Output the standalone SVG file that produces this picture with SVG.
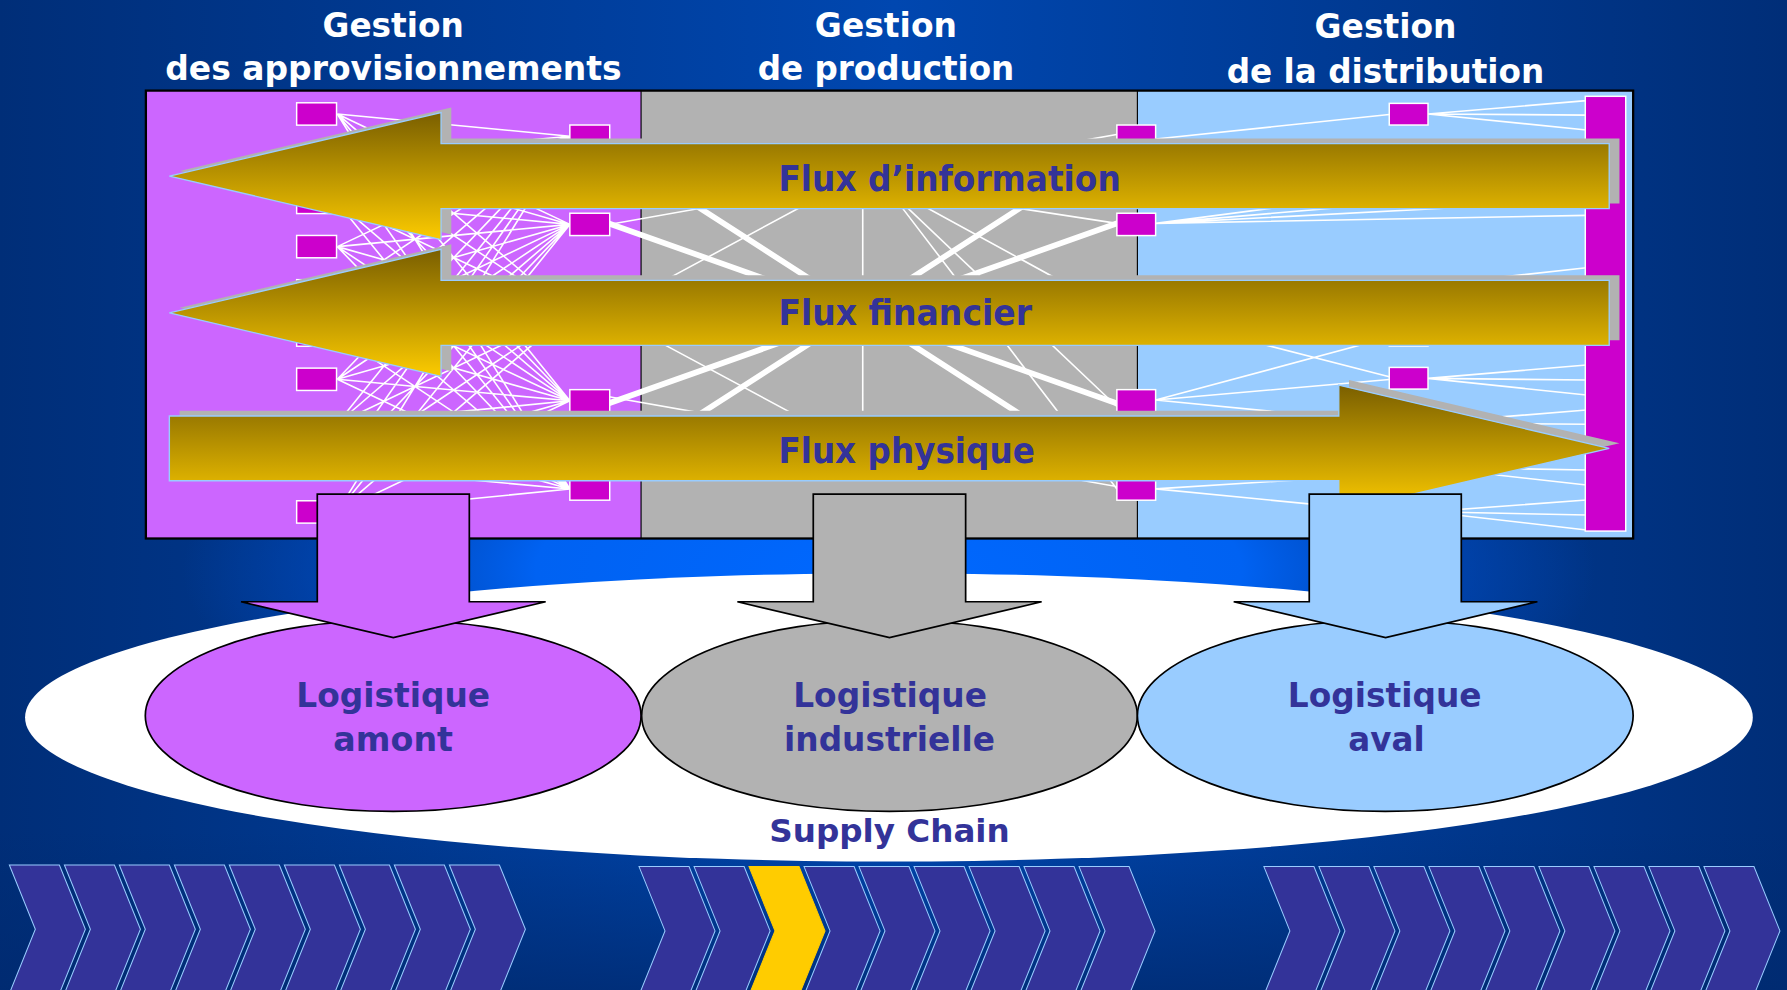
<svg xmlns="http://www.w3.org/2000/svg" xmlns:xlink="http://www.w3.org/1999/xlink" width="1787" height="990" viewBox="0 0 1787 990">
<defs>
<linearGradient id="bg" x1="0" y1="0" x2="1" y2="0">
<stop offset="0" stop-color="#002e78"/><stop offset="0.5" stop-color="#0047b0"/><stop offset="1" stop-color="#002e78"/>
</linearGradient>
<linearGradient id="bgdark" x1="0" y1="0" x2="0" y2="1">
<stop offset="0" stop-color="#002a70" stop-opacity="0"/><stop offset="1" stop-color="#002a70" stop-opacity="0.8"/>
</linearGradient>
<radialGradient id="glow" cx="0.5" cy="0.5" r="0.5">
<stop offset="0" stop-color="#0068ff"/><stop offset="0.5" stop-color="#0062f2"/><stop offset="0.75" stop-color="#0050d0" stop-opacity="0.55"/><stop offset="1" stop-color="#0050d0" stop-opacity="0"/>
</radialGradient>
<linearGradient id="gold" x1="0" y1="0" x2="0" y2="1">
<stop offset="0" stop-color="#7a5f00"/><stop offset="1" stop-color="#fccb00"/>
</linearGradient>
<polygon id="chev" points="0,0 43.9,0 66.7,56.4 43.9,112.8 0,112.8 22.8,56.4"/>
<style>
.sq{fill:#cc00cc;stroke:#ffffff;stroke-width:1.3}
.ln{stroke:#ffffff;stroke-width:1.4;fill:none}
.thk{stroke:#ffffff;stroke-width:5;fill:none}
.arr{fill:url(#gold);stroke:#99ccff;stroke-width:1.2}
.shd{fill:#b2b2b2}
.dn{stroke:#000000;stroke-width:1.5}
.ell{stroke:#000000;stroke-width:1.5}
.ttl{font-family:"DejaVu Sans","Liberation Sans",sans-serif;font-weight:bold;fill:#ffffff;font-size:29.2px}
.lab{font-family:"DejaVu Sans","Liberation Sans",sans-serif;font-weight:bold;fill:#333399}
.chev{fill:#333399;stroke:#99ccff;stroke-width:0.9}
.chevy{fill:#ffcc00;stroke:#ffcc00;stroke-width:0.9}
</style>
</defs>
<g transform="scale(1.13967)">
<g id="background">
<rect x="0" y="0" width="1568" height="870" fill="url(#bg)"/>
<rect x="0" y="730" width="1568" height="140" fill="url(#bgdark)"/>
<ellipse cx="780" cy="500" rx="620" ry="200" fill="url(#glow)"/>
</g>
<g id="titles">
<text class="ttl" x="283" y="32.3" textLength="124" lengthAdjust="spacingAndGlyphs">Gestion</text>
<text class="ttl" x="145" y="70.5" textLength="400.5" lengthAdjust="spacingAndGlyphs">des approvisionnements</text>
<text class="ttl" x="715" y="32.3" textLength="124.7" lengthAdjust="spacingAndGlyphs">Gestion</text>
<text class="ttl" x="664.8" y="70.5" textLength="225.2" lengthAdjust="spacingAndGlyphs">de production</text>
<text class="ttl" x="1153.5" y="33.5" textLength="124.5" lengthAdjust="spacingAndGlyphs">Gestion</text>
<text class="ttl" x="1076.4" y="72.7" textLength="278.6" lengthAdjust="spacingAndGlyphs">de la distribution</text>
</g>
<g id="sections">
<rect x="128" y="79.5" width="434.5" height="393" fill="#cc66ff"/>
<rect x="562.5" y="79.5" width="435.5" height="393" fill="#b2b2b2"/>
<rect x="998" y="79.5" width="435" height="393" fill="#99ccff"/>
<line x1="562.5" y1="79.5" x2="562.5" y2="472.5" stroke="#000" stroke-width="1"/>
<line x1="998" y1="79.5" x2="998" y2="472.5" stroke="#000" stroke-width="1"/>
<rect x="128" y="79.5" width="1305" height="393" fill="none" stroke="#000" stroke-width="2"/>
</g>
<g id="connectors">
<path class="ln" d="M296,100L500,119.5M296,100L500,196.9M296,100L500,274.3M296,100L500,351.7M296,100L500,429.1
M296,138.8L500,119.5M296,138.8L500,196.9M296,138.8L500,274.3M296,138.8L500,351.7M296,138.8L500,429.1
M296,177.6L500,119.5M296,177.6L500,196.9M296,177.6L500,274.3M296,177.6L500,351.7M296,177.6L500,429.1
M296,216.4L500,119.5M296,216.4L500,196.9M296,216.4L500,274.3M296,216.4L500,351.7M296,216.4L500,429.1
M296,255.2L500,119.5M296,255.2L500,196.9M296,255.2L500,274.3M296,255.2L500,351.7M296,255.2L500,429.1
M296,294L500,119.5M296,294L500,196.9M296,294L500,274.3M296,294L500,351.7M296,294L500,429.1
M296,332.8L500,119.5M296,332.8L500,196.9M296,332.8L500,274.3M296,332.8L500,351.7M296,332.8L500,429.1
M296,371.6L500,119.5M296,371.6L500,196.9M296,371.6L500,274.3M296,371.6L500,351.7M296,371.6L500,429.1
M296,410.4L500,119.5M296,410.4L500,196.9M296,410.4L500,274.3M296,410.4L500,351.7M296,410.4L500,429.1
M296,449.2L500,119.5M296,449.2L500,196.9M296,449.2L500,274.3M296,449.2L500,351.7M296,449.2L500,429.1"/>
<path class="thk" d="M517,190L997,360M517,360L997,190M512,117L997,429M512,429L997,117"/>
<path class="ln" d="M517,200L997,115M517,345L997,430M576,250L715,175M571,296L705,368M757,175L757,368M786.5,175.6L980,429M788.5,175L980,356.7M800,175L980,273.5M860,177.5L980,196"/>
<path class="ln" d="M1014,122L1219,100.5M1253,100L1392,88.3M1253,100L1392,101M1253,100L1392,114
M1014,196L1392,189M1014,196L1140,179.5M1014,196L1200,180M1014,196L1300,181M1290,246.2L1392,234.9
M1014,278L1219,330.5M1014,351L1219,296M1014,351L1219,333M1014,351L1219,371
M1253,332L1392,320.3M1253,332L1392,333.4M1253,332L1392,346.6
M1253,371L1392,359.8M1253,371L1392,372.3M1253,371L1392,385
M1253,410L1392,398M1253,410L1392,412.4M1253,410L1392,425.6
M1253,449L1392,438.7M1253,449L1392,451.9M1253,449L1392,465
M1014,429L1219,449M1014,429L1219,416"/>
</g>
<g id="network-nodes">
<rect class="sq" x="260.3" y="90.2" width="35" height="19.6"/>
<rect class="sq" x="260.3" y="129" width="35" height="19.6"/>
<rect class="sq" x="260.3" y="167.8" width="35" height="19.6"/>
<rect class="sq" x="260.3" y="206.6" width="35" height="19.6"/>
<rect class="sq" x="260.3" y="245.4" width="35" height="19.6"/>
<rect class="sq" x="260.3" y="284.2" width="35" height="19.6"/>
<rect class="sq" x="260.3" y="323" width="35" height="19.6"/>
<rect class="sq" x="260.3" y="361.8" width="35" height="19.6"/>
<rect class="sq" x="260.3" y="400.6" width="35" height="19.6"/>
<rect class="sq" x="260.3" y="439.4" width="35" height="19.6"/>
<rect class="sq" x="500" y="109.7" width="35" height="19.6"/>
<rect class="sq" x="500" y="187.1" width="35" height="19.6"/>
<rect class="sq" x="500" y="264.5" width="35" height="19.6"/>
<rect class="sq" x="500" y="341.9" width="35" height="19.6"/>
<rect class="sq" x="500" y="419.3" width="35" height="19.6"/>
<rect class="sq" x="980" y="109.7" width="34" height="19.6"/>
<rect class="sq" x="980" y="187.1" width="34" height="19.6"/>
<rect class="sq" x="980" y="264.5" width="34" height="19.6"/>
<rect class="sq" x="980" y="341.9" width="34" height="19.6"/>
<rect class="sq" x="980" y="419.3" width="34" height="19.6"/>
<rect class="sq" x="1219" y="90.7" width="34" height="19"/>
<rect class="sq" x="1219" y="129.5" width="34" height="19"/>
<rect class="sq" x="1219" y="245.7" width="34" height="19"/>
<rect class="sq" x="1219" y="284.6" width="34" height="19"/>
<rect class="sq" x="1219" y="322.4" width="34" height="19"/>
<rect class="sq" x="1219" y="361.5" width="34" height="19"/>
<rect class="sq" x="1219" y="400.5" width="34" height="19"/>
<rect class="sq" x="1219" y="439.5" width="34" height="19"/>
<rect class="sq" x="1391" y="84.5" width="35.5" height="381.5"/>
</g>
<g id="flux-information">
<polygon class="shd" transform="translate(9,-4.5)" points="148.6,154.5 387,98.8 387,126 1412,126 1412,183 387,183 387,210.2"/>
<polygon class="arr" points="148.6,154.5 387,98.8 387,126 1412,126 1412,183 387,183 387,210.2"/>
<text class="lab" x="683" y="167.3" font-size="31" textLength="300.4" lengthAdjust="spacingAndGlyphs">Flux d’information</text>
</g>
<g id="flux-financier">
<polygon class="shd" transform="translate(9,-4.5)" points="148.6,274.5 387,218.8 387,246 1412,246 1412,303 387,303 387,330.2"/>
<polygon class="arr" points="148.6,274.5 387,218.8 387,246 1412,246 1412,303 387,303 387,330.2"/>
<text class="lab" x="683" y="285.2" font-size="31" textLength="222.5" lengthAdjust="spacingAndGlyphs">Flux financier</text>
</g>
<g id="flux-physique">
<polygon class="shd" transform="translate(9,-4.5)" points="148.6,365 1174.7,365 1174.7,338 1412,393.4 1174.7,448.8 1174.7,421.8 148.6,421.8"/>
<polygon class="arr" points="148.6,365 1174.7,365 1174.7,338 1412,393.4 1174.7,448.8 1174.7,421.8 148.6,421.8"/>
<text class="lab" x="683" y="406" font-size="31" textLength="225" lengthAdjust="spacingAndGlyphs">Flux physique</text>
</g>
<g id="supply-chain">
<ellipse cx="780" cy="629.5" rx="758" ry="126.5" fill="#ffffff"/>
<text class="lab" x="675" y="738.5" font-size="28.6" textLength="211" lengthAdjust="spacingAndGlyphs">Supply Chain</text>
</g>
<g id="logistique-amont">
<ellipse class="ell" cx="345" cy="628" rx="217.5" ry="84" fill="#cc66ff"/>
<polygon class="dn" fill="#cc66ff" points="278.4,433.5 411.8,433.5 411.8,528 478.8,528 345.1,559.5 211.5,528 278.4,528"/>
<text class="lab" x="260" y="620" font-size="30" textLength="170" lengthAdjust="spacingAndGlyphs">Logistique</text>
<text class="lab" x="292.5" y="658.7" font-size="30" textLength="105" lengthAdjust="spacingAndGlyphs">amont</text>
</g>
<g id="logistique-industrielle">
<ellipse class="ell" cx="780.5" cy="628" rx="217.5" ry="84" fill="#b2b2b2"/>
<polygon class="dn" fill="#b2b2b2" points="713.6,433.5 847.3,433.5 847.3,528 914,528 780.5,559.5 647,528 713.6,528"/>
<text class="lab" x="696" y="620" font-size="30" textLength="170" lengthAdjust="spacingAndGlyphs">Logistique</text>
<text class="lab" x="688" y="658.7" font-size="30" textLength="185" lengthAdjust="spacingAndGlyphs">industrielle</text>
</g>
<g id="logistique-aval">
<ellipse class="ell" cx="1215.5" cy="628" rx="217.5" ry="84" fill="#99ccff"/>
<polygon class="dn" fill="#99ccff" points="1148.8,433.5 1282.2,433.5 1282.2,528 1349,528 1215.8,559.5 1082.5,528 1148.8,528"/>
<text class="lab" x="1130" y="620" font-size="30" textLength="170" lengthAdjust="spacingAndGlyphs">Logistique</text>
<text class="lab" x="1183" y="658.7" font-size="30" textLength="67" lengthAdjust="spacingAndGlyphs">aval</text>
</g>
<g id="chevrons">
<use href="#chev" class="chev" x="8.2" y="759"/>
<use href="#chev" class="chev" x="56.5" y="759"/>
<use href="#chev" class="chev" x="104.7" y="759"/>
<use href="#chev" class="chev" x="153" y="759"/>
<use href="#chev" class="chev" x="201.2" y="759"/>
<use href="#chev" class="chev" x="249.5" y="759"/>
<use href="#chev" class="chev" x="297.8" y="759"/>
<use href="#chev" class="chev" x="346" y="759"/>
<use href="#chev" class="chev" x="394.3" y="759"/>
<use href="#chev" class="chev" x="560.7" y="760.4"/>
<use href="#chev" class="chev" x="609" y="760.4"/>
<use href="#chev" class="chevy" x="657.2" y="760.4"/>
<use href="#chev" class="chev" x="705.5" y="760.4"/>
<use href="#chev" class="chev" x="753.7" y="760.4"/>
<use href="#chev" class="chev" x="802" y="760.4"/>
<use href="#chev" class="chev" x="850.3" y="760.4"/>
<use href="#chev" class="chev" x="898.5" y="760.4"/>
<use href="#chev" class="chev" x="946.8" y="760.4"/>
<use href="#chev" class="chev" x="1109" y="760.4"/>
<use href="#chev" class="chev" x="1157.3" y="760.4"/>
<use href="#chev" class="chev" x="1205.5" y="760.4"/>
<use href="#chev" class="chev" x="1253.8" y="760.4"/>
<use href="#chev" class="chev" x="1302" y="760.4"/>
<use href="#chev" class="chev" x="1350.3" y="760.4"/>
<use href="#chev" class="chev" x="1398.6" y="760.4"/>
<use href="#chev" class="chev" x="1446.8" y="760.4"/>
<use href="#chev" class="chev" x="1495.1" y="760.4"/>
</g>
</g>
</svg>
